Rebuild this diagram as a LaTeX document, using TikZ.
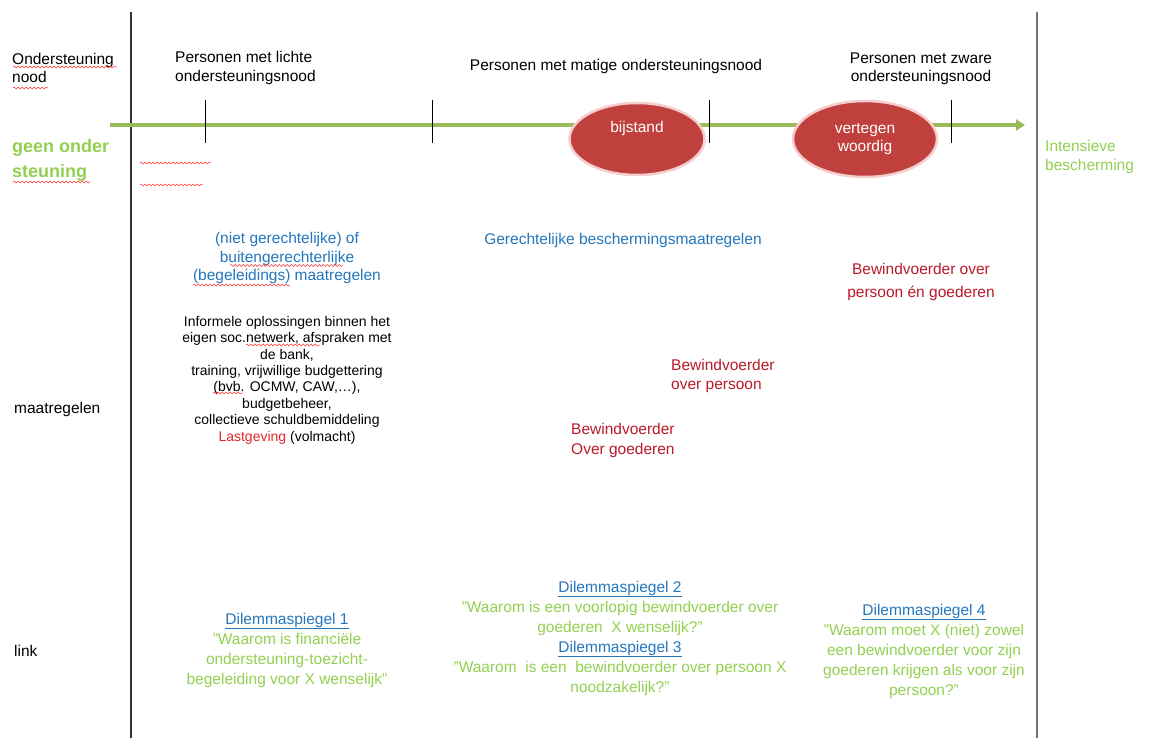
\documentclass[tikz,border=0pt]{standalone}
\usepackage{fontspec}
\setmainfont{Liberation Sans}
\usepackage{tikz}
\usetikzlibrary{shapes.geometric, decorations.pathmorphing, arrows.meta}

\definecolor{axisgreen}{RGB}{155,187,89}
\definecolor{lightgreen}{RGB}{146,208,80}
\definecolor{textblue}{RGB}{35,118,188}
\definecolor{darkred}{RGB}{185,25,40}
\definecolor{brightred}{RGB}{225,40,40}
\definecolor{bubblered}{RGB}{192,64,62}
\definecolor{bubbleedge}{RGB}{245,205,205}

\begin{document}
\begin{tikzpicture}[x=1pt, y=-1pt,
    txt/.style={inner sep=0pt, font=\fontsize{15.5}{18.5}\selectfont},
    small/.style={inner sep=0pt, font=\fontsize{14}{16.4}\selectfont},
    quote/.style={inner sep=0pt, align=center, font=\fontsize{15.5}{20}\selectfont, color=lightgreen},
    bubble/.style={ellipse, fill=bubblered, draw=bubbleedge, line width=2.5pt, inner sep=0pt},
    wave/.style={color=red!80!white, line width=0.5pt, decorate, decoration={snake, amplitude=1.1pt, segment length=4pt}}]
          \useasboundingbox (0,0) rectangle (1151,738);
          \coordinate (lt) at (131,12);
          \coordinate (lb) at (131,738);
          \coordinate (rt) at (1037,12);
          \coordinate (rb) at (1037,738);
          \coordinate (s) at (110,125);
          \coordinate (e) at (1025,125);
          \draw[-, color=black!80, line width=1.5pt] (lt) -- (lb);
          \draw[-, color=black!55, line width=1.8pt] (rt) -- (rb);
          \draw[-{Triangle[length=9pt, width=11pt]}, color=axisgreen, line width=3.5pt] (s) -- (e);
          \foreach \x in {205,432,709,951}
          {
          \draw[-, line width=1pt] (\x,100) -- (\x,143);
          }
          % bubbles on the axis
          \node[bubble, minimum width=135pt, minimum height=72pt] (bij) at (637,139) {};
          \node[txt, color=white] (bijtxt) at ([yshift=11pt]bij.center) {bijstand};
          \node[bubble, minimum width=144pt, minimum height=76pt] (vert) at (865,139) {};
          \node[txt, color=white, align=center] (verttxt) at (vert.center) {vertegen\\woordig};
          % header row
          \node[txt, anchor=west, align=left] (need) at (12,68) {Ondersteuning\\nood};
          \node[txt, anchor=west, align=left] (light) at (175,68) {Personen met lichte\\ondersteuningsnood};
          \node[txt] (mid) at (616,66) {Personen met matige ondersteuningsnood};
          \node[txt, align=center] (heavy) at (921,69) {Personen met zware\\ondersteuningsnood};
          \node[inner sep=0pt, anchor=west, align=left, color=lightgreen, font=\fontsize{18}{25}\bfseries] (none) at (12,160) {geen onder\\steuning};
          \node[txt, anchor=west, align=left, color=lightgreen] (intens) at (1045,157) {Intensieve\\bescherming};
          % maatregelen row
          \node[txt, anchor=west] (maat) at (14,409) {maatregelen};
          \node[txt, align=center, color=textblue] (extra) at (287,258) {(niet gerechtelijke) of\\buitengerechterlijke\\(begeleidings) maatregelen};
          \node[small, align=center] (informal) at (287,380) {Informele oplossingen binnen het\\eigen soc.netwerk, afspraken met\\de bank,\\training, vrijwillige budgettering\\(bvb. OCMW, CAW,\dots),\\budgetbeheer,\\collectieve schuldbemiddeling\\{\color{brightred}Lastgeving} (volmacht)};
          \node[txt, color=textblue] (judicial) at (623,240) {Gerechtelijke beschermingsmaatregelen};
          \node[txt, align=center, color=darkred, font=\fontsize{15.5}{23}\selectfont] (both) at (921,282) {Bewindvoerder over\\persoon én goederen};
          \node[txt, anchor=west, align=left, color=darkred] (person) at (671,376) {Bewindvoerder\\over persoon};
          \node[txt, anchor=west, align=left, color=darkred, font=\fontsize{15.5}{20}\selectfont] (goods) at (571,440) {Bewindvoerder\\Over goederen};
          % link row
          \node[txt, anchor=west] (link) at (14,651) {link};
          \node[quote] (dil1) at (287,650) {{\color{textblue}\underline{Dilemmaspiegel 1}}\\"Waarom is financiële\\ondersteuning-toezicht-\\begeleiding voor X wenselijk"};
          \node[quote] (dil23) at (620,638) {{\color{textblue}\underline{Dilemmaspiegel 2}}\\"Waarom is een voorlopig bewindvoerder over\\goederen\ \ X wenselijk?"\\{\color{textblue}\underline{Dilemmaspiegel 3}}\\"Waarom\ \ is een\ \ bewindvoerder over persoon X\\noodzakelijk?"};
          \node[quote] (dil4) at (924,651) {{\color{textblue}\underline{Dilemmaspiegel 4}}\\"Waarom moet X (niet) zowel\\een bewindvoerder voor zijn\\goederen krijgen als voor zijn\\persoon?"};
          % spelling marks
          \draw[wave] (13,67) -- (117,67);
          \draw[wave] (13,88) -- (48,88);
          \draw[wave] (13,182) -- (90,182);
          \draw[wave] (140,163) -- (211,163);
          \draw[wave] (140,185) -- (203,185);
          \draw[wave] (230,265.5) -- (343,265.5);
          \draw[wave] (193,285) -- (290,285);
          \draw[wave] (246,345) -- (320,345);
          \draw[wave] (213,393) -- (243,393);
        \end{tikzpicture}
\end{document}
